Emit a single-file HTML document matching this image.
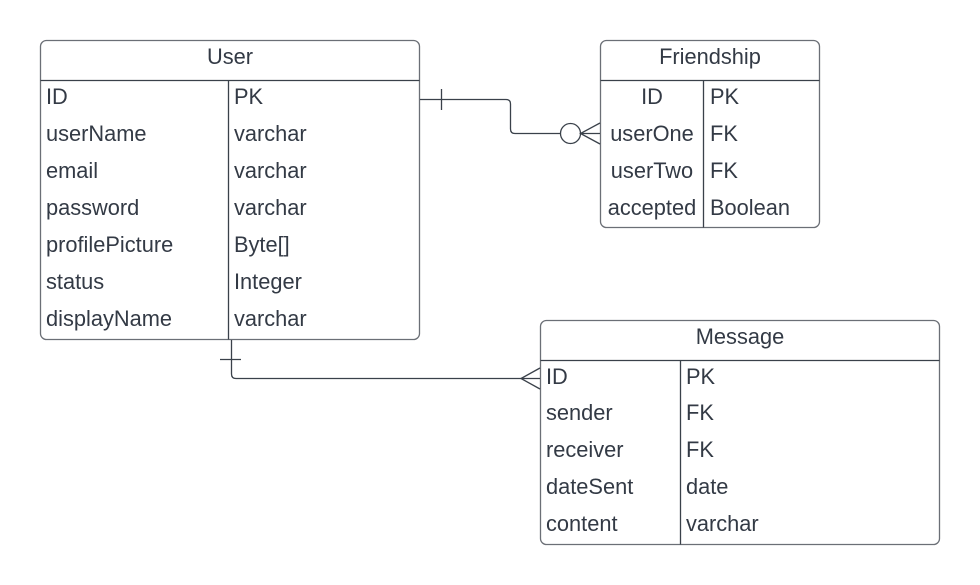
<!DOCTYPE html>
<html><head><meta charset="utf-8"><style>
html,body{margin:0;padding:0;background:#fff;}
svg{display:block;}
text{font-family:"Liberation Sans",Arial,sans-serif;font-size:21.8px;fill:#333a45;}
</style></head><body>
<svg width="980" height="585" viewBox="0 0 980 585" xmlns="http://www.w3.org/2000/svg">
<g fill="none" stroke="#6b6f76" stroke-width="1.3">
<rect x="40.5" y="40.5" width="379" height="299" rx="6"/>
<line x1="40.5" y1="80.5" x2="419.5" y2="80.5" stroke="#3a414a"/>
<line x1="228.5" y1="80.5" x2="228.5" y2="339.5" stroke="#3a414a"/>
<rect x="600.5" y="40.5" width="219" height="187" rx="6"/>
<line x1="600.5" y1="80.5" x2="819.5" y2="80.5" stroke="#3a414a"/>
<line x1="703.5" y1="80.5" x2="703.5" y2="227.5" stroke="#3a414a"/>
<rect x="540.5" y="320.5" width="399" height="224" rx="6"/>
<line x1="540.5" y1="360.5" x2="939.5" y2="360.5" stroke="#3a414a"/>
<line x1="680.5" y1="360.5" x2="680.5" y2="544.5" stroke="#3a414a"/>
</g>
<g fill="none" stroke="#3a414a" stroke-width="1.3">
<path d="M420 99.5 H506 Q510.5 99.5 510.5 104 V129 Q510.5 133.5 515 133.5 H560"/>
<line x1="441.5" y1="89" x2="441.5" y2="110"/>
<circle cx="570.5" cy="133.5" r="10"/>
<path d="M600 123 L580.5 133.5 L600 144 M580.5 133.5 H600"/>
<path d="M231.5 340 V374 Q231.5 378.5 236 378.5 H540"/>
<line x1="220" y1="359.5" x2="241" y2="359.5"/>
<path d="M540 368 L521 378.5 L540 389"/>
</g>
<text x="230" y="64" text-anchor="middle">User</text>
<g>
<text x="46" y="104">ID</text><text x="234" y="104">PK</text>
<text x="46" y="141">userName</text><text x="234" y="141">varchar</text>
<text x="46" y="178">email</text><text x="234" y="178">varchar</text>
<text x="46" y="215">password</text><text x="234" y="215">varchar</text>
<text x="46" y="252">profilePicture</text><text x="234" y="252">Byte[]</text>
<text x="46" y="289">status</text><text x="234" y="289">Integer</text>
<text x="46" y="326">displayName</text><text x="234" y="326">varchar</text>
</g>
<text x="710" y="64" text-anchor="middle">Friendship</text>
<g>
<text x="652" y="104" text-anchor="middle">ID</text><text x="710" y="104">PK</text>
<text x="652" y="141" text-anchor="middle">userOne</text><text x="710" y="141">FK</text>
<text x="652" y="178" text-anchor="middle">userTwo</text><text x="710" y="178">FK</text>
<text x="652" y="215" text-anchor="middle">accepted</text><text x="710" y="215">Boolean</text>
</g>
<text x="740" y="344" text-anchor="middle">Message</text>
<g>
<text x="546" y="384">ID</text><text x="686" y="384">PK</text>
<text x="546" y="420">sender</text><text x="686" y="420">FK</text>
<text x="546" y="457">receiver</text><text x="686" y="457">FK</text>
<text x="546" y="494">dateSent</text><text x="686" y="494">date</text>
<text x="546" y="531">content</text><text x="686" y="531">varchar</text>
</g>
</svg>
</body></html>
